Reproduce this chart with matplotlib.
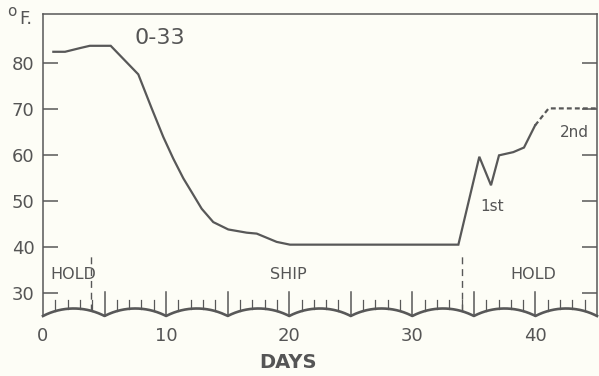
import matplotlib.pyplot as plt
import numpy as np

# Temperature record of lot 0-33 (days vs deg F)
days = [0.84, 1.79, 3.0, 3.8, 5.5, 7.74, 8.83, 9.77, 10.58, 11.4, 12.08, 12.89,
        13.83, 15.05, 16.55, 17.36, 18.98, 20.06, 33.74, 35.44, 36.39, 37.04,
        38.2, 39.07, 39.97]
temps = [82.4, 82.4, 83.2, 83.7, 83.7, 77.5, 70.1, 63.9, 59.2, 54.9, 51.9, 48.3,
         45.4, 43.8, 43.1, 42.9, 41.1, 40.5, 40.5, 59.6, 53.4, 59.9, 60.6, 61.6,
         66.4]
# dashed continuation
est_days = [39.97, 41.07, 45.0]
est_temps = [66.4, 70.1, 70.1]

phase_labels = ["HOLD", "SHIP", "HOLD"]
phase_centers = [2.5, 19.9, 39.8]
phase_breaks = [3.9, 34.05]

lot = "0-33"
moves = ["1st", "2nd"]
move_x = [36.45, 43.15]
move_y = [48.7, 64.9]

x_ticks = [0, 10, 20, 30, 40]
y_ticks = [30, 40, 50, 60, 70, 80]

ink = "#585858"
text_c = "#555555"
paper = "#fdfdf6"

W, H = 599, 376
fig = plt.figure(figsize=(W / 100, H / 100), dpi=100, facecolor=paper)
ax = fig.add_axes([43 / W, 60 / H, 554 / W, 301.5 / H], facecolor=paper)
ax.set_xlim(0, 45)
ax.set_ylim(25, 90.5)

# main curve + dashed part
ax.plot(days, temps, color=ink, lw=1.6, solid_joinstyle="miter")
ax.plot(est_days, est_temps, color=ink, lw=1.6, linestyle=(0, (2.2, 1.4)))

# spines and y ticks
ax.spines["bottom"].set_visible(False)
for s in ["left", "top", "right"]:
    ax.spines[s].set_color(ink)
    ax.spines[s].set_linewidth(1.1)
ax.set_yticks(y_ticks)
ax.tick_params(axis="y", direction="in", length=11, width=1.1, color=ink,
               left=True, right=True, pad=6, labelsize=13, labelcolor=text_c)
ax.set_xticks(x_ticks)
ax.tick_params(axis="x", length=0, pad=8, labelsize=13, labelcolor=text_c)

# scalloped day axis
ppd = 554 / 45          # px per day
ppf = 301.5 / 65.5      # px per deg F
chord = 5 * ppd
sag = 7.5
R = (chord ** 2 / 4 + sag ** 2) / (2 * sag)


def scallop(x):
    u = np.mod(x, 5) * ppd - chord / 2
    return 25 + (np.sqrt(R ** 2 - u ** 2) - (R - sag)) / ppf


xs = np.linspace(0, 45, 1200)
ax.plot(xs, scallop(xs), color=ink, lw=1.9, clip_on=False)
for d in range(1, 45):
    top = 30.15 if d % 5 == 0 else 28.4
    ax.plot([d, d], [scallop(d) if d % 5 else 25, top], color=ink,
            lw=1.1 if d % 5 == 0 else 0.9, clip_on=False)

# hold / ship boundaries
for b in phase_breaks:
    ax.plot([b, b], [scallop(b), 38.2], color=ink, lw=1.0,
            linestyle=(0, (5, 3.5)))
for lab, c in zip(phase_labels, phase_centers):
    ax.text(c, 34, lab, ha="center", va="center", fontsize=11.5, color=text_c)

ax.text(9.5, 85.5, lot, ha="center", va="center", fontsize=16, color=text_c)
for m, mx, my in zip(moves, move_x, move_y):
    ax.text(mx, my, m, ha="center", va="center", fontsize=11, color=text_c)

fig.text(288 / W, 1 - 362 / H, "DAYS", ha="center", va="center",
         fontsize=14, fontweight="bold", color=text_c)
fig.text(11.5 / W, 1 - 11 / H, "o", ha="center", va="center",
         fontsize=11, color=text_c)
fig.text(19 / W, 1 - 19.5 / H, "F.", ha="left", va="center",
         fontsize=13, color=text_c)

fig.savefig("out.png", dpi=100, facecolor=paper)
